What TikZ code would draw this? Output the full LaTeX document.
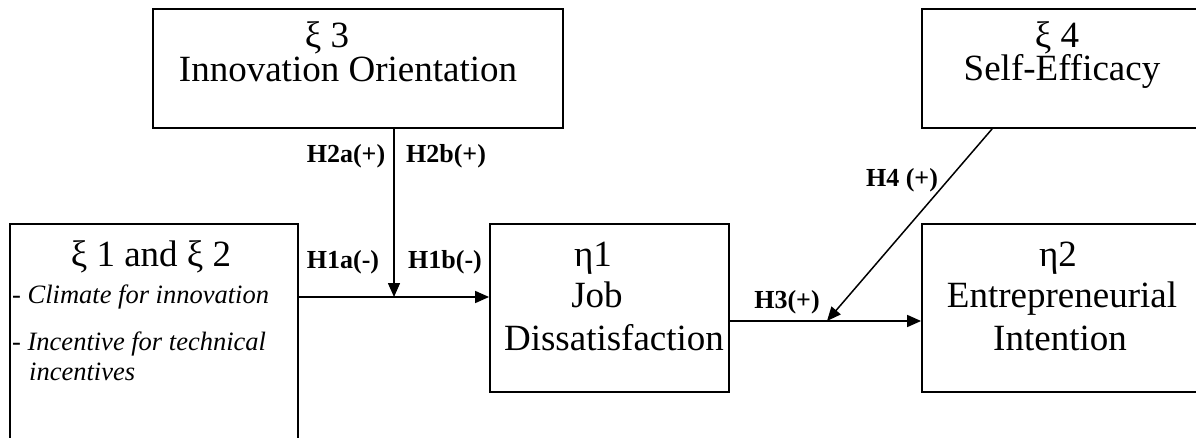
\documentclass[tikz,border=0pt]{standalone}
\usepackage{fontspec}
\setmainfont{Liberation Serif}
\usetikzlibrary{arrows.meta,calc}
\tikzset{
  box/.style={draw, line width=1.8pt, rectangle, inner sep=0pt},
  big/.style={inner sep=0pt, anchor=base, font=\fontsize{37}{42}\selectfont},
  ital/.style={inner sep=0pt, anchor=base west, font=\fontsize{26.5}{30}\selectfont},
  lab/.style={inner sep=0pt, anchor=base, font=\fontsize{26}{30}\selectfont\bfseries},
  conn/.style={line width=1.5pt, -{Triangle[length=14pt,width=12pt]}},
  plain/.style={line width=1.5pt}
}
\begin{document}
\begin{tikzpicture}[x=1pt,y=-1pt]
\useasboundingbox (0,0) rectangle (1196,438);
\clip (0,0) rectangle (1196,438);
% boxes
\node[box, minimum width=410pt, minimum height=119pt] (xi3) at (358,68.5) {};
\node[box, minimum width=300pt, minimum height=119pt] (xi4) at (1072,68.5) {};
\node[box, minimum width=288pt, minimum height=260pt] (xi12) at (154,354) {};
\node[box, minimum width=239pt, minimum height=168pt] (eta1) at (609.5,308) {};
\node[box, minimum width=300pt, minimum height=168pt] (eta2) at (1072,308) {};
% texts
\node[big] (t3a) at (327,48) {ξ 3};
\node[big] (t3b) at (348,82) {Innovation Orientation};
\node[big] (t4a) at (1057,48) {ξ 4};
\node[big] (t4b) at (1062,81) {Self-Efficacy};
\node[big] (t12) at (151,267) {ξ 1 and ξ 2};
\node[ital] (c1) at (12,303) {- \textit{Climate for innovation}};
\node[ital] (c2) at (12,350) {- \textit{Incentive for technical}};
\node[ital] (c3) at (29,380) {\textit{incentives}};
\node[big] (e1a) at (593,267) {η1};
\node[big] (e1b) at (597,307) {Job};
\node[big] (e1c) at (614,350) {Dissatisfaction};
\node[big] (e2a) at (1058,267) {η2};
\node[big] (e2b) at (1062,307) {Entrepreneurial};
\node[big] (e2c) at (1060,350) {Intention};
% labels
\node[lab] (h2a) at (346,163) {H2a(+)};
\node[lab] (h2b) at (446,163) {H2b(+)};
\node[lab] (h1a) at (343,269) {H1a(-)};
\node[lab] (h1b) at (445,269) {H1b(-)};
\node[lab] (h3) at (787,308) {H3(+)};
\node[lab] (h4) at (902,187) {H4 (+)};
% connectors
\coordinate (j1) at (394,297);
\coordinate (j2) at (827,321);
\draw[conn] (xi12.east |- j1) -- (eta1.west |- j1);
\draw[conn] (j1 |- xi3.south) -- (j1);
\draw[conn] (eta1.east |- j2) -- (eta2.west |- j2);
\draw[conn] ([xshift=71pt]xi4.south west) -- (j2);
\end{tikzpicture}
\end{document}
